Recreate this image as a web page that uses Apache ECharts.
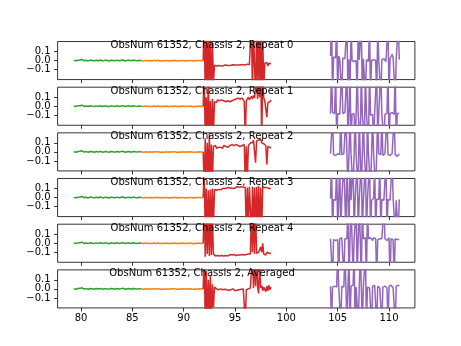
<!DOCTYPE html>
<html>
<head>
<meta charset="utf-8">
<script src="https://cdn.jsdelivr.net/npm/echarts@6/dist/echarts.min.js"></script>
<style>
html, body { margin: 0; padding: 0; background: #fff; }
#chart { width: 461px; height: 346px; }
</style>
</head>
<body>
<div id="chart"></div>
<script>
// Panel titles
const panelTitles = [
  'ObsNum 61352, Chassis 2, Repeat 0',
  'ObsNum 61352, Chassis 2, Repeat 1',
  'ObsNum 61352, Chassis 2, Repeat 2',
  'ObsNum 61352, Chassis 2, Repeat 3',
  'ObsNum 61352, Chassis 2, Repeat 4',
  'ObsNum 61352, Chassis 2, Averaged'
];

// Axis ticks
const xTicks = [80, 85, 90, 95, 100, 105, 110];
const yTicks = [0.1, 0, -0.1];

// Segment sample positions
const greenX = [79.3, 79.5, 79.7, 79.9, 80.1, 80.3, 80.5, 80.7, 80.9, 81.1, 81.3, 81.5, 81.7, 81.9, 82.1, 82.3, 82.5,
  82.7, 82.9, 83.1, 83.3, 83.5, 83.7, 83.9, 84.1, 84.3, 84.5, 84.7, 84.9, 85.1, 85.3, 85.5, 85.7, 85.9];
const orangeX = [85.9, 86.1, 86.3, 86.5, 86.7, 86.9, 87.1, 87.3, 87.5, 87.7, 87.9, 88.1, 88.3, 88.5, 88.7, 88.9,
  89.1, 89.3, 89.5, 89.7, 89.9, 90.1, 90.3, 90.5, 90.7, 90.9, 91.1, 91.3, 91.5, 91.7, 91.9];
const redX = [91.9, 92.0, 92.1, 92.2, 92.3, 92.4, 92.5, 92.6, 92.7, 92.8, 92.9, 93.0, 93.1, 93.2, 93.3, 93.4, 93.5,
  93.6, 93.7, 93.8, 93.9, 94.0, 94.1, 94.2, 94.3, 94.4, 94.5, 94.6, 94.7, 94.8, 94.9, 95.0, 95.1, 95.2, 95.3,
  95.4, 95.5, 95.6, 95.7, 95.8, 95.9, 96.0, 96.1, 96.2, 96.3, 96.4, 96.5, 96.6, 96.7, 96.8, 96.9, 97.0, 97.1,
  97.2, 97.3, 97.4, 97.5, 97.6, 97.7, 97.8, 97.9, 98.0, 98.1, 98.2, 98.3, 98.4, 98.5];
const purpleX = [104.3, 104.4, 104.5, 104.6, 104.7, 104.8, 104.9, 105.0, 105.1, 105.2, 105.3, 105.4, 105.5, 105.6,
  105.7, 105.8, 105.9, 106.0, 106.1, 106.2, 106.3, 106.4, 106.5, 106.6, 106.7, 106.8, 106.9, 107.0, 107.1, 107.2,
  107.3, 107.4, 107.5, 107.6, 107.7, 107.8, 107.9, 108.0, 108.1, 108.2, 108.3, 108.4, 108.5, 108.6, 108.7, 108.8,
  108.9, 109.0, 109.1, 109.2, 109.3, 109.4, 109.5, 109.6, 109.7, 109.8, 109.9, 110.0, 110.1, 110.2, 110.3, 110.4,
  110.5, 110.6, 110.7, 110.8, 110.9, 111.0];

// Quiet segments
const greenY = [0.002, -0.003, 0.004, 0.006, 0.012, -0.002, 0.003, -0.004, 0.005, 0.001, -0.003, 0.004, -0.002,
  0.006, -0.004, 0.002, 0.003, -0.005, 0.004, 0.001, -0.003, 0.005, -0.002, 0.003, 0.006, -0.004, 0.002, 0.004,
  -0.003, 0.005, 0.001, -0.002, 0.003, 0.0];
const orangeY = [0.0, -0.004, 0.002, -0.003, 0.001, -0.005, 0.002, -0.002, 0.003, -0.004, 0.0, -0.003, 0.002,
  -0.005, 0.001, -0.002, 0.003, -0.004, 0.0, -0.003, 0.002, -0.004, 0.001, -0.002, 0.002, -0.005, 0.0, -0.003,
  0.002, -0.002, 0.0];

// Red segment, one array per panel
const red0 = [0.0, 0.4, -0.35, 0.3, -0.4, 0.35, -0.3, 0.25, -0.35, 0.2, -0.25, -0.05, -0.07, -0.06, -0.065,
  -0.055, -0.06, -0.058, -0.052, -0.06, -0.055, -0.05, -0.058, -0.052, -0.05, -0.055, -0.048, -0.052, -0.05,
  -0.046, -0.052, -0.048, -0.045, -0.05, -0.044, -0.048, -0.042, -0.046, -0.04, -0.045, -0.038, -0.05, -0.035,
  -0.04, -0.03, -0.045, -0.04, 0.4, -0.35, 0.3, -0.04, -0.38, 0.35, -0.3, 0.4, -0.35, 0.3, -0.4, 0.25, -0.3,
  -0.03, -0.05, -0.02, -0.06, -0.03, -0.045, -0.035];
const red1 = [0.0, 0.4, -0.4, 0.1, -0.35, 0.3, -0.4, 0.06, -0.35, 0.08, -0.3, 0.05, 0.06, 0.04, 0.07, 0.05,
  0.06, 0.04, 0.07, 0.05, 0.06, 0.08, 0.05, 0.07, 0.06, 0.08, 0.05, 0.07, 0.06, 0.08, 0.07, 0.05, 0.08, 0.06,
  0.09, 0.07, 0.08, 0.06, 0.09, 0.07, 0.05, -0.35, 0.06, 0.08, 0.1, 0.07, 0.09, 0.11, 0.08, 0.12, 0.09, 0.1,
  0.35, 0.08, 0.3, 0.1, 0.4, -0.35, 0.3, 0.09, 0.06, 0.07, -0.12, 0.04, 0.06, 0.05, 0.07];
const red2 = [0.0, -0.4, 0.15, -0.4, 0.1, -0.35, 0.2, -0.4, 0.08, -0.3, 0.06, 0.05, 0.07, 0.04, 0.06, 0.05,
  0.07, 0.05, 0.06, 0.04, 0.07, 0.05, 0.06, 0.08, 0.05, 0.06, 0.07, 0.05, 0.08, 0.06, 0.07, 0.05, 0.08, 0.06,
  0.07, 0.09, 0.06, 0.08, 0.07, 0.06, 0.08, -0.35, 0.06, -0.3, 0.07, 0.09, 0.1, 0.12, 0.1, 0.13, 0.11, -0.12,
  0.12, 0.1, 0.13, 0.11, 0.14, 0.1, 0.12, 0.09, 0.1, 0.07, -0.14, 0.06, 0.04, 0.05, 0.04];
const red3 = [0.0, 0.3, -0.4, 0.1, -0.4, 0.08, -0.35, 0.09, -0.4, 0.1, -0.3, 0.09, 0.1, 0.08, 0.095, 0.09,
  0.1, 0.085, 0.095, 0.1, 0.09, 0.1, 0.095, 0.105, 0.1, 0.11, 0.1, 0.105, 0.11, 0.1, 0.115, 0.105, 0.11, 0.12,
  0.105, 0.115, 0.11, 0.12, 0.11, 0.115, 0.12, 0.11, -0.4, 0.11, -0.35, 0.12, 0.11, -0.4, 0.12, -0.35, 0.11,
  -0.4, 0.12, -0.3, 0.13, -0.4, 0.11, -0.35, 0.12, 0.1, 0.11, 0.1, 0.11, 0.095, 0.1, 0.105, 0.1];
const red4 = [0.0, 0.4, -0.15, 0.35, -0.12, 0.4, -0.14, 0.3, -0.13, 0.25, -0.12, -0.13, -0.14, -0.13, -0.135,
  -0.125, -0.14, -0.13, -0.135, -0.13, -0.14, -0.125, -0.135, -0.13, -0.14, -0.13, -0.125, -0.135, -0.13,
  -0.14, -0.125, -0.13, -0.135, -0.12, -0.13, -0.125, -0.13, -0.12, -0.125, -0.12, -0.13, -0.12, -0.125,
  -0.115, -0.12, -0.11, -0.12, 0.4, -0.1, 0.35, -0.12, 0.4, -0.11, -0.12, -0.1, -0.11, -0.04, -0.1, 0.0,
  -0.12, -0.11, -0.13, -0.1, -0.12, -0.11, -0.13, -0.11];
const red5 = [0.0, 0.4, -0.4, 0.2, -0.35, 0.1, -0.3, 0.15, -0.35, 0.05, -0.2, 0.02, 0.03, 0.0, 0.02, -0.01,
  0.01, 0.0, 0.02, -0.01, 0.0, -0.005, 0.01, -0.01, 0.0, -0.015, 0.005, -0.01, -0.005, 0.0, -0.01, -0.02,
  -0.005, -0.015, 0.0, -0.01, -0.02, -0.005, -0.01, 0.0, -0.015, -0.35, -0.01, -0.02, 0.0, -0.01, 0.01, 0.02,
  0.4, 0.01, 0.35, 0.03, 0.4, 0.02, -0.05, 0.3, 0.01, 0.04, -0.02, 0.02, 0.0, -0.03, 0.03, -0.02, 0.04, -0.01,
  0.02];

// Purple segment, one array per panel
const purple0 = [0.05, 0.45, -0.4, 0.04, 0.06, 0.03, 0.42, -0.38, 0.05, 0.02, 0.04, -0.4, 0.03, 0.01, 0.02,
  0.0, 0.4, -0.35, 0.01, -0.4, 0.42, 0.0, 0.02, -0.01, 0.01, 0.0, -0.42, 0.4, 0.01, -0.01, 0.4, -0.4, 0.02,
  0.0, -0.38, 0.01, 0.03, -0.01, 0.41, -0.4, 0.0, 0.02, 0.01, -0.01, 0.0, -0.4, 0.38, 0.01, 0.02, -0.42, 0.01,
  0.0, 0.02, 0.01, -0.01, 0.0, 0.4, -0.4, 0.02, 0.04, 0.07, 0.03, 0.01, -0.41, 0.02, 0.0, 0.4, 0.01];
const purple1 = [-0.08, 0.4, -0.07, -0.09, -0.08, 0.4, -0.4, -0.08, -0.07, -0.09, -0.08, 0.42, -0.08, -0.1,
  -0.07, -0.09, 0.4, -0.4, -0.08, 0.4, -0.4, -0.09, -0.1, -0.08, -0.4, -0.09, 0.4, -0.1, -0.08, -0.4, 0.4,
  -0.09, -0.1, -0.4, 0.4, -0.08, -0.09, -0.4, 0.4, -0.1, -0.08, -0.09, -0.4, -0.08, -0.09, 0.4, -0.4, -0.08,
  -0.1, 0.4, -0.09, -0.08, -0.4, -0.09, -0.07, -0.08, 0.4, -0.4, -0.08, -0.06, -0.07, -0.08, -0.09, 0.4, -0.4,
  -0.08, -0.07, -0.08];
const purple2 = [-0.02, -0.03, 0.4, -0.03, -0.02, -0.04, -0.03, -0.02, -0.04, -0.03, 0.4, -0.03, -0.05, -0.02,
  -0.04, 0.41, -0.03, -0.4, -0.02, 0.4, -0.03, -0.04, -0.4, -0.03, 0.42, -0.05, -0.03, -0.4, 0.4, -0.04,
  -0.4, -0.03, 0.4, -0.04, -0.05, -0.4, 0.4, -0.03, -0.04, -0.4, -0.02, 0.4, -0.03, -0.04, -0.4, -0.03, 0.4,
  -0.02, -0.04, -0.03, 0.4, -0.04, -0.03, -0.02, -0.04, 0.4, -0.03, -0.02, -0.04, -0.03, -0.02, -0.04, 0.4,
  -0.03, -0.02, -0.05, -0.03, -0.02];
const purple3 = [-0.01, 0.4, -0.4, -0.02, -0.01, -0.03, 0.4, -0.4, -0.02, 0.4, -0.4, -0.01, -0.03, 0.4, -0.02,
  -0.4, 0.4, -0.02, -0.4, 0.4, -0.03, -0.02, 0.4, -0.4, -0.02, -0.03, 0.4, -0.4, -0.01, -0.02, 0.4, -0.4,
  -0.03, -0.02, 0.4, -0.4, -0.02, -0.01, 0.4, -0.4, -0.03, -0.02, -0.01, 0.4, -0.4, -0.02, -0.03, -0.02, 0.4,
  -0.4, -0.02, -0.01, -0.03, -0.02, 0.4, -0.4, -0.02, -0.01, -0.03, -0.02, 0.4, -0.01, -0.02, -0.4, -0.03,
  -0.02, -0.4, -0.02];
const purple4 = [0.05, 0.03, -0.4, 0.04, 0.06, 0.03, 0.05, 0.04, -0.4, 0.05, 0.03, 0.06, 0.04, -0.4, 0.05,
  0.03, 0.05, 0.4, -0.4, 0.04, 0.4, 0.05, -0.4, 0.04, 0.06, 0.4, -0.4, 0.05, 0.4, 0.04, -0.4, 0.4, 0.05, 0.04,
  0.06, -0.4, 0.4, 0.05, 0.04, 0.06, 0.05, 0.03, 0.06, 0.04, 0.05, -0.4, 0.04, 0.06, 0.05, 0.03, 0.05, 0.04,
  0.4, 0.05, 0.04, 0.03, 0.05, 0.06, -0.4, 0.05, 0.03, 0.04, -0.4, 0.05, 0.03, 0.04, 0.05, 0.04];
const purple5 = [0.03, -0.4, 0.02, 0.04, 0.03, 0.05, 0.02, 0.4, 0.03, 0.02, -0.4, 0.03, 0.04, 0.02, 0.4, 0.03,
  -0.4, 0.02, 0.4, -0.4, 0.03, 0.02, 0.04, 0.4, -0.4, 0.02, 0.03, -0.4, 0.02, 0.4, 0.03, -0.4, 0.02, 0.04,
  0.4, -0.4, 0.02, 0.03, 0.01, 0.02, -0.4, 0.03, 0.02, 0.04, 0.02, -0.4, 0.03, 0.02, 0.01, 0.03, -0.4, 0.02,
  0.04, 0.03, 0.02, 0.01, -0.4, 0.03, 0.02, 0.04, 0.03, 0.01, 0.02, -0.4, 0.03, 0.02, 0.04, 0.03];

const redSets = [red0, red1, red2, red3, red4, red5];
const purpleSets = [purple0, purple1, purple2, purple3, purple4, purple5];

const colors = { green: '#2ca02c', orange: '#ff7f0e', red: '#d62728', purple: '#9467bd' };
const FONT = 'DejaVu Sans';

// Figure layout (pixels)
const plotLeft = 57.6, plotWidth = 357.3;
const firstTop = 41.52, panelHeight = 38.06, panelStep = 45.67;
const xMin = 77.72, xMax = 112.52;
const yMin = -0.21, yMax = 0.21;

function pairs(xs, ys) {
  return xs.map((x, i) => [x, ys[i]]);
}

function yLabel(v) {
  if (Math.abs(v) < 1e-9) return '0.0';
  return v < 0 ? '\u2212' + (-v).toFixed(1) : v.toFixed(1);
}

const grid = [], xAxis = [], yAxis = [], series = [], graphic = [];
const nPanels = panelTitles.length;
const tickStyle = { color: '#000', width: 0.8 };

for (let i = 0; i < nPanels; i++) {
  const top = firstTop + i * panelStep;
  grid.push({
    left: plotLeft, top: top, width: plotWidth, height: panelHeight,
    show: true, borderColor: '#000', borderWidth: 0.8, backgroundColor: 'transparent',
    containLabel: false, outerBoundsMode: 'none'
  });
  const last = i === nPanels - 1;
  xAxis.push({
    type: 'value', gridIndex: i, min: xMin, max: xMax, position: 'bottom',
    axisLine: { show: false, onZero: false },
    splitLine: { show: false },
    axisTick: { show: true, inside: false, length: 3.5, customValues: xTicks, lineStyle: tickStyle },
    axisLabel: { show: last, customValues: xTicks, margin: 5.5, color: '#000',
      showMinLabel: true, showMaxLabel: true, hideOverlap: false,
      fontFamily: FONT, fontSize: 10, formatter: v => String(v) }
  });
  // One left axis per tick value, so each tick keeps its own label
  yTicks.forEach(t => {
    yAxis.push({
      type: 'value', gridIndex: i, min: yMin, max: yMax, position: 'left', offset: 0,
      axisLine: { show: false, onZero: false },
      splitLine: { show: false },
      axisTick: { show: true, inside: false, length: 3.5, customValues: [t], lineStyle: tickStyle },
      axisLabel: { show: true, customValues: [t], margin: 7, color: '#000',
        showMinLabel: true, showMaxLabel: true, hideOverlap: false,
        fontFamily: FONT, fontSize: 10, formatter: yLabel }
    });
  });
  const yIndex = i * yTicks.length;

  const segs = [
    [greenX, greenY, colors.green],
    [orangeX, orangeY, colors.orange],
    [redX, redSets[i], colors.red],
    [purpleX, purpleSets[i], colors.purple]
  ];
  segs.forEach(([xs, ys, c]) => {
    series.push({
      type: 'line', xAxisIndex: i, yAxisIndex: yIndex,
      data: pairs(xs, ys), showSymbol: false, symbol: 'none', clip: true,
      lineStyle: { color: c, width: 1.5 }, silent: true, z: 2
    });
  });

  graphic.push({
    type: 'text', x: 202, y: top - 1, z: 100,
    style: { text: panelTitles[i], font: '10px "DejaVu Sans"', fill: '#000',
      align: 'center', verticalAlign: 'top' }
  });
}

const chart = echarts.init(document.getElementById('chart'), null, { renderer: 'canvas' });
chart.setOption({
  animation: false,
  backgroundColor: '#fff',
  grid, xAxis, yAxis, series, graphic
});
</script>
</body>
</html>
